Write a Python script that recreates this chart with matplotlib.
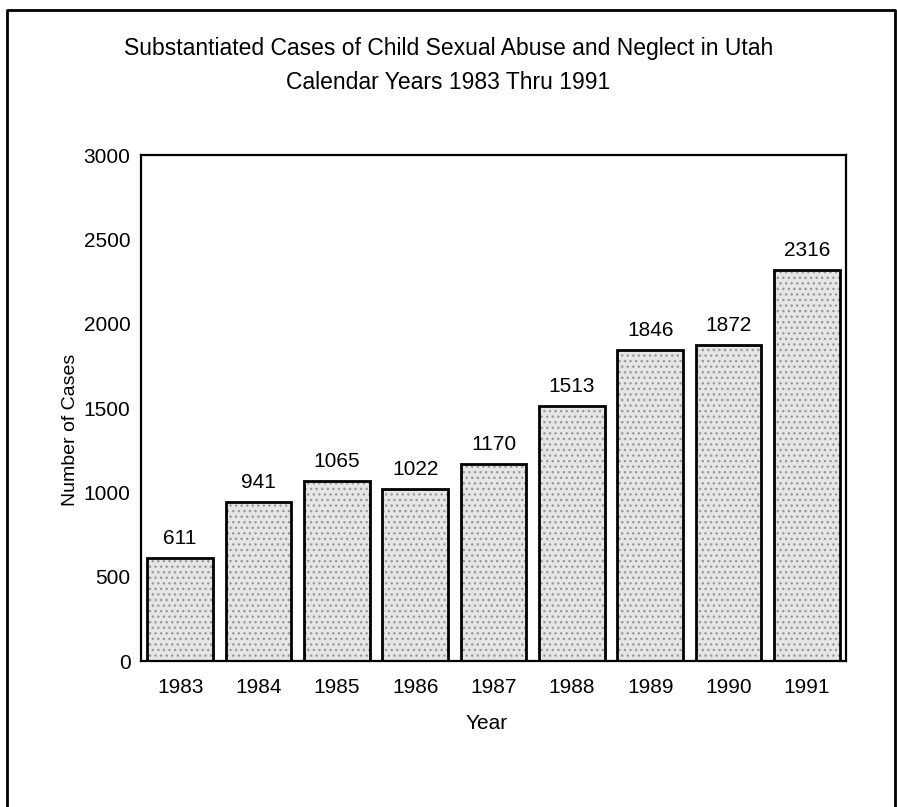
import numpy as np
import matplotlib
matplotlib.use("Agg")
import matplotlib.pyplot as plt
from matplotlib.lines import Line2D

years = ["1983", "1984", "1985", "1986", "1987", "1988", "1989", "1990", "1991"]
cases = [611, 941, 1065, 1022, 1170, 1513, 1846, 1872, 2316]
yticks = [0, 500, 1000, 1500, 2000, 2500, 3000]

plt.rcParams["font.family"] = ["Liberation Sans", "DejaVu Sans"]
plt.rcParams["hatch.linewidth"] = 1.0

fig = plt.figure(figsize=(8.97, 8.07), dpi=100)
ax = fig.add_axes([0.1572, 0.1809, 0.7860, 0.6270])

x = np.arange(len(years))
# stippled fill: grey face with a dotted hatch, then a black outline on top
ax.bar(x, cases, width=0.84, color="#e6e6e6", edgecolor="#9a9a9a",
       hatch="...", linewidth=0, zorder=2)
ax.bar(x, cases, width=0.84, color="none", edgecolor="black",
       linewidth=2.0, zorder=3)

for xi, val in zip(x, cases):
    ax.text(xi, val + 60, str(val), ha="center", va="bottom", fontsize=15)

ax.set_xlim(-0.5, 8.5)
ax.set_ylim(0, 3000)
ax.set_yticks(yticks)
ax.set_xticks(x)
ax.set_xticklabels(years)
ax.tick_params(length=0, labelsize=15)
ax.tick_params(axis="y", pad=7.5)
ax.tick_params(axis="x", pad=12)
for sp in ax.spines.values():
    sp.set_linewidth(1.6)

ax.set_xlabel("Year", fontsize=15)
ax.set_ylabel("Number of Cases", fontsize=14)
ax.xaxis.set_label_coords(0.49, -0.105)
ax.yaxis.set_label_coords(-0.088, 0.4565)

fig.text(0.5, 0.9405, "Substantiated Cases of Child Sexual Abuse and Neglect in Utah",
         ha="center", va="center", fontsize=16.5)
fig.text(0.5, 0.898, "Calendar Years 1983 Thru 1991",
         ha="center", va="center", fontsize=16.5)

# page frame (left, top, right edges)
fig.add_artist(Line2D([0.008, 0.008, 0.998, 0.998], [0.0, 0.988, 0.988, 0.0],
                      transform=fig.transFigure, color="black", linewidth=2))

fig.savefig("out.png", dpi=100)
